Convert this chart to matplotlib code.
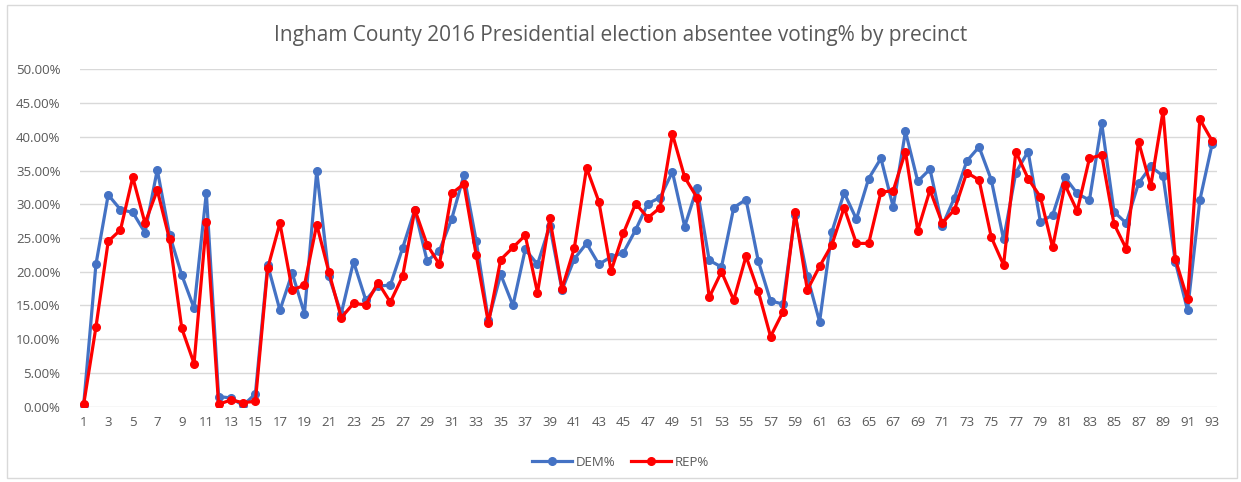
import matplotlib.pyplot as plt
from matplotlib.patches import Rectangle
from matplotlib.ticker import PercentFormatter
import numpy as np

precinct = np.arange(1, 94)

dem = [0.3, 21.1, 31.4, 29.2, 28.8, 25.8, 35.1, 25.5, 19.5, 14.6,
       31.7, 1.5, 1.3, 0.2, 1.9, 21.0, 14.3, 19.8, 13.8, 34.9,
       19.3, 13.8, 21.5, 15.8, 17.9, 18.0, 23.5, 29.2, 21.6, 23.1,
       27.8, 34.3, 24.6, 12.8, 19.6, 15.0, 23.3, 21.1, 26.8, 17.3,
       21.9, 24.2, 21.1, 22.2, 22.8, 26.2, 30.1, 31.0, 34.8, 26.7,
       32.4, 21.7, 20.7, 29.5, 30.7, 21.6, 15.7, 15.2, 28.4, 19.3,
       12.6, 25.9, 31.7, 27.8, 33.8, 36.8, 29.6, 40.8, 33.4, 35.2,
       26.8, 31.0, 36.4, 38.5, 33.6, 24.8, 34.7, 37.8, 27.4, 28.4,
       34.0, 31.6, 30.6, 42.0, 28.9, 27.2, 33.1, 35.6, 34.2, 21.5,
       14.3, 30.6, 38.9]

rep = [0.35, 11.8, 24.5, 26.2, 34.0, 27.2, 32.1, 24.8, 11.6, 6.4,
       27.3, 0.35, 1.0, 0.6, 0.8, 20.5, 27.2, 17.3, 18.0, 27.0,
       19.9, 13.2, 15.3, 15.1, 18.4, 15.5, 19.3, 29.2, 24.0, 21.1,
       31.6, 33.0, 22.5, 12.4, 21.8, 23.6, 25.4, 16.9, 27.9, 17.5,
       23.5, 35.4, 30.4, 20.1, 25.7, 30.1, 28.0, 29.5, 40.4, 34.0,
       31.0, 16.2, 20.0, 15.8, 22.3, 17.1, 10.4, 14.0, 28.8, 17.3,
       20.8, 24.0, 29.5, 24.2, 24.2, 31.8, 32.0, 37.8, 26.1, 32.1,
       27.2, 29.2, 34.7, 33.6, 25.1, 21.0, 37.8, 33.8, 31.1, 23.6,
       32.9, 29.0, 36.8, 37.3, 27.1, 23.4, 39.3, 32.7, 43.8, 21.9,
       15.9, 42.6, 39.4]

dem = np.array(dem) / 100
rep = np.array(rep) / 100

plt.rcParams['font.family'] = ['Open Sans', 'DejaVu Sans']
txt = '#595959'

fig = plt.figure(figsize=(12.41, 4.82), dpi=100)
fig.patches.append(Rectangle((7 / 1241, 4 / 482), 1230 / 1241, 473 / 482,
                             transform=fig.transFigure, fill=False,
                             edgecolor='#D9D9D9', linewidth=1))
ax = fig.add_axes([80 / 1241, 1 - 406.7 / 482, 1137 / 1241, 337.4 / 482])

ax.plot(precinct, dem, color='#4472C4', lw=2.3, marker='o', ms=5.5, label='DEM%', zorder=3)
ax.plot(precinct, rep, color='#FF0000', lw=2.3, marker='o', ms=5.5, label='REP%', zorder=4)

ax.set_xlim(0.7, 93.4)
ax.set_ylim(0, 0.5)
ax.set_yticks(np.arange(0, 0.51, 0.05))
ax.yaxis.set_major_formatter(PercentFormatter(1.0, decimals=2))
ax.set_xticks(precinct[::2])
ax.grid(axis='y', color='#D9D9D9', lw=1)
ax.set_axisbelow(True)
for s in ax.spines.values():
    s.set_visible(False)
ax.tick_params(length=0, labelsize=9.5, colors=txt, pad=7)
ax.tick_params(axis='y', pad=14)

fig.text(0.5, 1 - 36 / 482, 'Ingham County 2016 Presidential election absentee voting% by precinct',
         ha='center', va='center', fontsize=15, color=txt)
fig.legend(loc='center', bbox_to_anchor=(0.5, 1 - 462 / 482), ncol=2, frameon=False,
           fontsize=9.5, labelcolor=txt, handlelength=3, columnspacing=1.2, handletextpad=0.3)

fig.savefig('out.png', dpi=100)
